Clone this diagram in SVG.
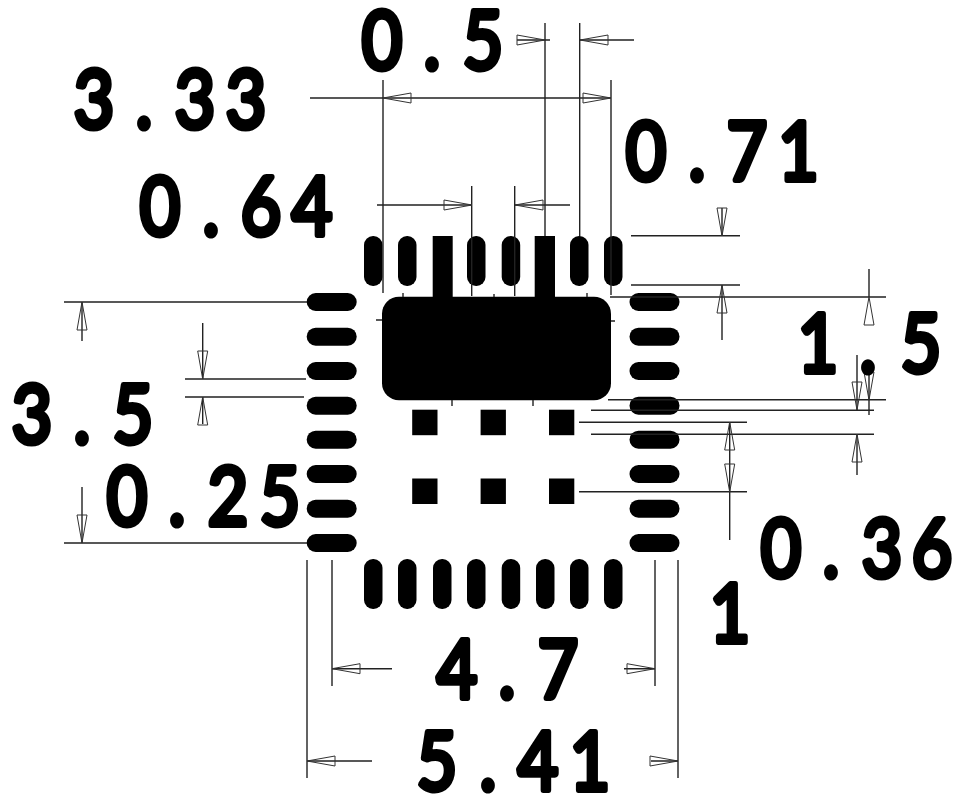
<svg xmlns="http://www.w3.org/2000/svg" width="954" height="800" viewBox="0 0 954 800">
<style>
.l{stroke:#222;stroke-width:1.4;fill:none}
.a{stroke:#333;stroke-width:1;fill:none}
.p{fill:#000}
.t{font-family:"Lato",sans-serif;font-size:82px;text-anchor:middle;fill:#000;stroke:#000;stroke-width:6;stroke-linejoin:round}
</style>
<defs>
<path id="a" class="a" d="M0 0L28 -5V5Z"/>
<rect id="v" class="p" x="-9" y="-25" width="18.500" height="50" rx="9"/>
<rect id="h" class="p" x="-25" y="-9" width="50" height="18" rx="9"/>
<rect id="s" class="p" width="25.300" height="25.500"/>
</defs>
<rect width="954" height="800" fill="#fff"/>
<g id="package">
<g id="pads-top">
<use href="#v" x="373" y="261"/><use href="#v" x="407" y="261"/><use href="#v" x="476" y="261"/><use href="#v" x="510.700" y="261"/><use href="#v" x="579" y="261"/><use href="#v" x="613" y="261"/>
<rect class="p" x="432.700" y="236" width="20" height="62"/><rect class="p" x="534.700" y="236" width="20.300" height="62"/>
</g>
<g id="pads-bottom">
<use href="#v" x="373" y="584"/><use href="#v" x="407" y="584"/><use href="#v" x="442" y="584"/><use href="#v" x="476" y="584"/><use href="#v" x="510.700" y="584"/><use href="#v" x="545" y="584"/><use href="#v" x="579" y="584"/><use href="#v" x="613" y="584"/>
</g>
<g id="pads-left">
<use href="#h" x="331.700" y="302"/><use href="#h" x="331.700" y="336.700"/><use href="#h" x="331.700" y="371"/><use href="#h" x="331.700" y="405.700"/><use href="#h" x="331.700" y="439.700"/><use href="#h" x="331.700" y="474"/><use href="#h" x="331.700" y="508.700"/><use href="#h" x="331.700" y="543"/>
</g>
<g id="pads-right">
<use href="#h" x="654.500" y="302"/><use href="#h" x="654.500" y="336.700"/><use href="#h" x="654.500" y="371"/><use href="#h" x="654.500" y="405.700"/><use href="#h" x="654.500" y="439.700"/><use href="#h" x="654.500" y="474"/><use href="#h" x="654.500" y="508.700"/><use href="#h" x="654.500" y="543"/>
</g>
<rect id="body" class="p" x="382" y="296.700" width="229" height="103.600" rx="17"/>
<g id="vias">
<use href="#s" x="412.200" y="409.700"/><use href="#s" x="480.600" y="409.700"/><use href="#s" x="549" y="409.700"/>
<use href="#s" x="412.200" y="478.500"/><use href="#s" x="480.600" y="478.500"/><use href="#s" x="549" y="478.500"/>
</g>
</g>
<g id="connectors">
<path class="l" d="M383 80V293M310 98H611M545 23V236M579.700 23V236M517 40H550M580 40H634M611 80V295M471.700 186V296M514.700 186V296M377 205H472M515 205H570
M403 293V297M494 294V297M587 293V297M376 320H382M611 321H615M452 400V406M533 400V406
M631 235.700H740M631 285H740M610 297H886M722 208V236M722 285V340M869 269V297M608 399.700H886M591 410.300H874M579 422.300H747M591 434.300H874M579 491.700H747M857 355V410M857 434V475M869 372V415M729.700 422V540
M64 302H307M64 543H307M82 302V341M82 487V543M202.700 323V379M185 379H306M185 397H304M202.700 397V424
M332 560V686M655 560V686M332 668.700H392M624 668.700H655M307 560V778M678 560V778M307 761H372M651 761H678"/>
<use href="#a" transform="translate(383,98)"/>
<use href="#a" transform="translate(611,98) rotate(180)"/>
<use href="#a" transform="translate(545,40) rotate(180)"/>
<use href="#a" transform="translate(580,40)"/>
<use href="#a" transform="translate(472,205) rotate(180)"/>
<use href="#a" transform="translate(515,205)"/>
<use href="#a" transform="translate(722,236) rotate(-90)"/>
<use href="#a" transform="translate(722,285) rotate(90)"/>
<use href="#a" transform="translate(869,297) rotate(90)"/>
<use href="#a" transform="translate(857,410) rotate(-90)"/>
<use href="#a" transform="translate(857,434) rotate(90)"/>
<use href="#a" transform="translate(869,400) rotate(-90)"/>
<use href="#a" transform="translate(729.700,422) rotate(90)"/>
<use href="#a" transform="translate(729.700,492) rotate(-90)"/>
<use href="#a" transform="translate(82,302) rotate(90)"/>
<use href="#a" transform="translate(82,543) rotate(-90)"/>
<use href="#a" transform="translate(202.700,379) rotate(-90)"/>
<use href="#a" transform="translate(202.700,397) rotate(90)"/>
<use href="#a" transform="translate(332,668.700)"/>
<use href="#a" transform="translate(655,668.700) rotate(180)"/>
<use href="#a" transform="translate(307,761)"/>
<use href="#a" transform="translate(678,761) rotate(180)"/>
</g>
<g id="labels">
<text class="t" transform="translate(0,69) scale(.85,1)" x="449.400 508.200 568.200">0.5</text>
<text class="t" transform="translate(0,128) scale(.85,1)" x="110.600 169.400 229.400 289.400">3.33</text>
<text class="t" transform="translate(0,235) scale(.85,1)" x="188.200 248.200 307.100 367.100">0.64</text>
<text class="t" transform="translate(0,180) scale(.85,1)" x="760 820 878.800 939.400">0.71</text>
<text class="t" transform="translate(0,372) scale(.85,1)" x="962.400 1021.200 1083.500">1.5</text>
<text class="t" transform="translate(0,443) scale(.85,1)" x="37.600 96.500 156.500">3.5</text>
<text class="t" transform="translate(0,525) scale(.85,1)" x="149.400 208.200 268.200 329.400">0.25</text>
<text class="t" transform="translate(0,577) scale(.85,1)" x="918.800 977.600 1037.600 1096.500">0.36</text>
<text class="t" transform="translate(0,642) scale(.85,1)" x="858.800">1</text>
<text class="t" transform="translate(0,698) scale(.85,1)" x="537.600 596.500 656.500">4.7</text>
<text class="t" transform="translate(0,790) scale(.85,1)" x="514.100 574.100 632.900 694.100">5.41</text>
</g>
</svg>
